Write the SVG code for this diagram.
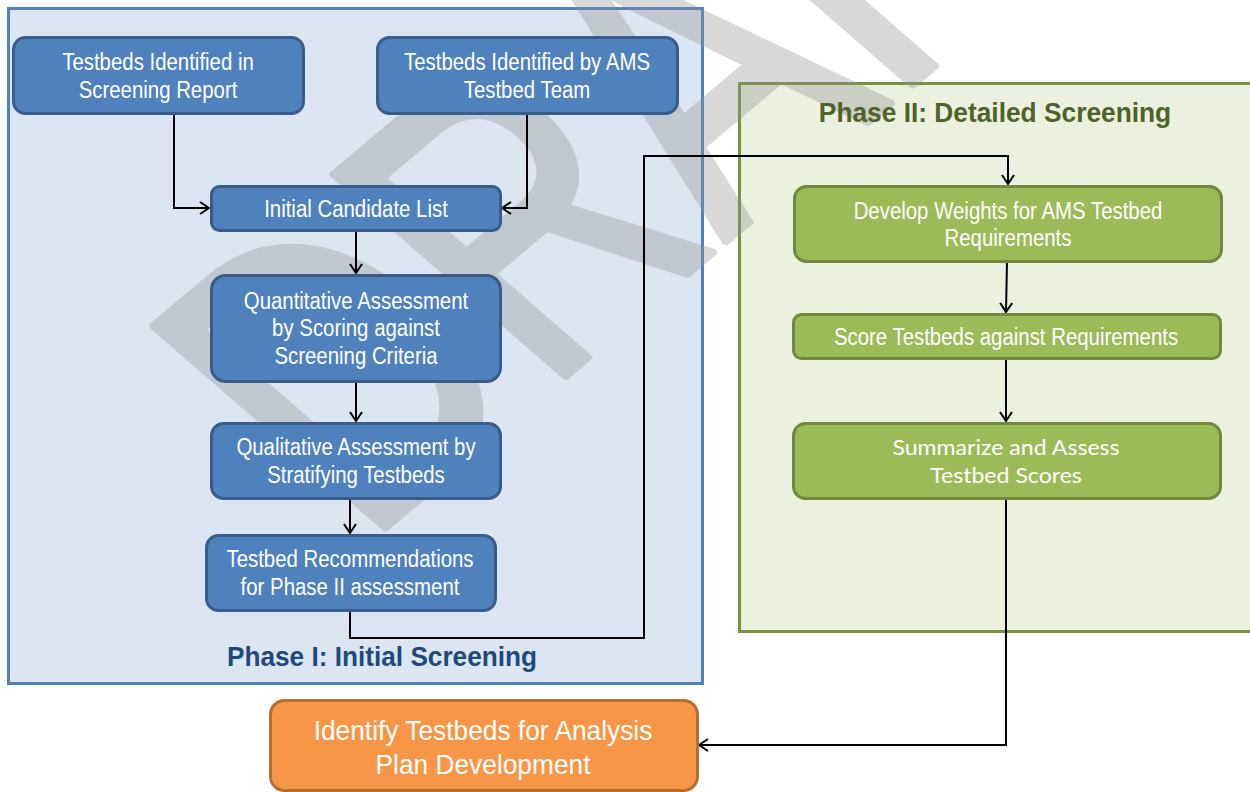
<svg xmlns="http://www.w3.org/2000/svg" width="1250" height="792" viewBox="0 0 1250 792">
  <defs>
    <style>
      .phase1 { fill: #dce6f2; stroke: #4f81bd; stroke-width: 3; }
      .phase2 { fill: #ebf1de; stroke: #77933c; stroke-width: 3; }
      .blue { fill: #4f81bd; stroke: #385d8a; stroke-width: 3; }
      .green { fill: #9bbb59; stroke: #71893f; stroke-width: 3; }
      .orange { fill: #f79646; stroke: #b66d31; stroke-width: 3; }
      .t { font-family: "Liberation Sans", Arial, sans-serif; font-size: 23.5px; fill: #ffffff; text-anchor: middle; }
      .tc { font-family: Lato, "Open Sans", sans-serif; font-size: 22px; fill: #ffffff; text-anchor: middle; }
      .to { font-family: "Liberation Sans", Arial, sans-serif; font-size: 28px; fill: #ffffff; text-anchor: middle; }
      .title { font-family: "Liberation Sans", Arial, sans-serif; font-size: 28px; font-weight: bold; text-anchor: middle; }
      .wm { font-family: "Liberation Sans", Arial, sans-serif; font-size: 410px; fill: #909090; stroke: #909090; stroke-width: 8; stroke-linejoin: round; }
      .conn { fill: none; stroke: #000000; stroke-width: 2; }
    </style>
    <marker id="arr" markerWidth="12" markerHeight="14" refX="10" refY="7" orient="auto" markerUnits="userSpaceOnUse">
      <path d="M1,1 L10,7 L1,13" fill="none" stroke="#000000" stroke-width="2"/>
    </marker>
  </defs>

  <g id="phase1-container">
    <rect class="phase1" x="8.5" y="8.5" width="694" height="675"/>
  </g>
  <g id="phase2-container">
    <rect class="phase2" x="739.5" y="83.5" width="530" height="548"/>
  </g>

  <g id="watermark" opacity="0.34">
    <text class="wm" x="0" y="0" transform="translate(364,545) scale(1.17,1) rotate(-44.5) scale(0.73,1)">DRAFT</text>
  </g>

  <g id="connectors">
    <path class="conn" d="M174,113 V208 H209" marker-end="url(#arr)"/>
    <path class="conn" d="M527,113 V208 H502" marker-end="url(#arr)"/>
    <path class="conn" d="M356,230 V273" marker-end="url(#arr)"/>
    <path class="conn" d="M356,381 V421" marker-end="url(#arr)"/>
    <path class="conn" d="M350,498 V533" marker-end="url(#arr)"/>
    <path class="conn" d="M350,610 V638 H644 V156 H1008 V184" marker-end="url(#arr)"/>
    <path class="conn" d="M1007,261 L1006,312" marker-end="url(#arr)"/>
    <path class="conn" d="M1006,358 V421" marker-end="url(#arr)"/>
    <path class="conn" d="M1006,498 V745 H699" marker-end="url(#arr)"/>
  </g>

  <g id="node-screening-report">
    <rect class="blue" x="13.5" y="37.5" width="290" height="76" rx="12"/>
    <text class="t" transform="translate(158,0) scale(0.868,1)"><tspan x="0" y="70">Testbeds Identified in</tspan><tspan x="0" y="98">Screening Report</tspan></text>
  </g>
  <g id="node-ams-team">
    <rect class="blue" x="377.5" y="37.5" width="300" height="76" rx="12"/>
    <text class="t" transform="translate(527,0) scale(0.868,1)"><tspan x="0" y="70">Testbeds Identified by AMS</tspan><tspan x="0" y="98">Testbed Team</tspan></text>
  </g>
  <g id="node-initial-list">
    <rect class="blue" x="211.5" y="186.5" width="289" height="44" rx="8"/>
    <text class="t" transform="translate(356,0) scale(0.868,1)"><tspan x="0" y="217">Initial Candidate List</tspan></text>
  </g>
  <g id="node-quantitative">
    <rect class="blue" x="211.5" y="275.5" width="289" height="106" rx="14"/>
    <text class="t" transform="translate(356,0) scale(0.868,1)"><tspan x="0" y="309">Quantitative Assessment</tspan><tspan x="0" y="336">by Scoring against</tspan><tspan x="0" y="364">Screening Criteria</tspan></text>
  </g>
  <g id="node-qualitative">
    <rect class="blue" x="211.5" y="423.5" width="289" height="75" rx="12"/>
    <text class="t" transform="translate(356,0) scale(0.868,1)"><tspan x="0" y="455">Qualitative Assessment by</tspan><tspan x="0" y="483">Stratifying Testbeds</tspan></text>
  </g>
  <g id="node-recommendations">
    <rect class="blue" x="206.5" y="535.5" width="289" height="75" rx="12"/>
    <text class="t" transform="translate(350,0) scale(0.868,1)"><tspan x="0" y="567">Testbed Recommendations</tspan><tspan x="0" y="595">for Phase II assessment</tspan></text>
  </g>

  <g id="node-weights">
    <rect class="green" x="794.5" y="186.5" width="427" height="75" rx="12"/>
    <text class="t" transform="translate(1008,0) scale(0.868,1)"><tspan x="0" y="219">Develop Weights for AMS Testbed</tspan><tspan x="0" y="246">Requirements</tspan></text>
  </g>
  <g id="node-score">
    <rect class="green" x="793.5" y="314.5" width="427" height="44" rx="8"/>
    <text class="t" transform="translate(1006,0) scale(0.868,1)"><tspan x="0" y="345">Score Testbeds against Requirements</tspan></text>
  </g>
  <g id="node-summarize">
    <rect class="green" x="793.5" y="423.5" width="427" height="75" rx="12"/>
    <text class="tc" transform="translate(1006,0) scale(1.05,1)"><tspan x="0" y="455">Summarize and Assess</tspan><tspan x="0" y="483">Testbed Scores</tspan></text>
  </g>

  <g id="node-identify">
    <rect class="orange" x="270.5" y="700.5" width="427" height="90" rx="14"/>
    <text class="to" transform="translate(483,0) scale(0.94,1)"><tspan x="0" y="740">Identify Testbeds for Analysis</tspan><tspan x="0" y="774">Plan Development</tspan></text>
  </g>

  <g id="labels">
    <text class="title" transform="translate(382,0) scale(0.936,1)" x="0" y="666" fill="#1f497d">Phase I: Initial Screening</text>
    <text class="title" transform="translate(995,0) scale(0.94,1)" x="0" y="122" fill="#4f6228">Phase II: Detailed Screening</text>
  </g>
</svg>
